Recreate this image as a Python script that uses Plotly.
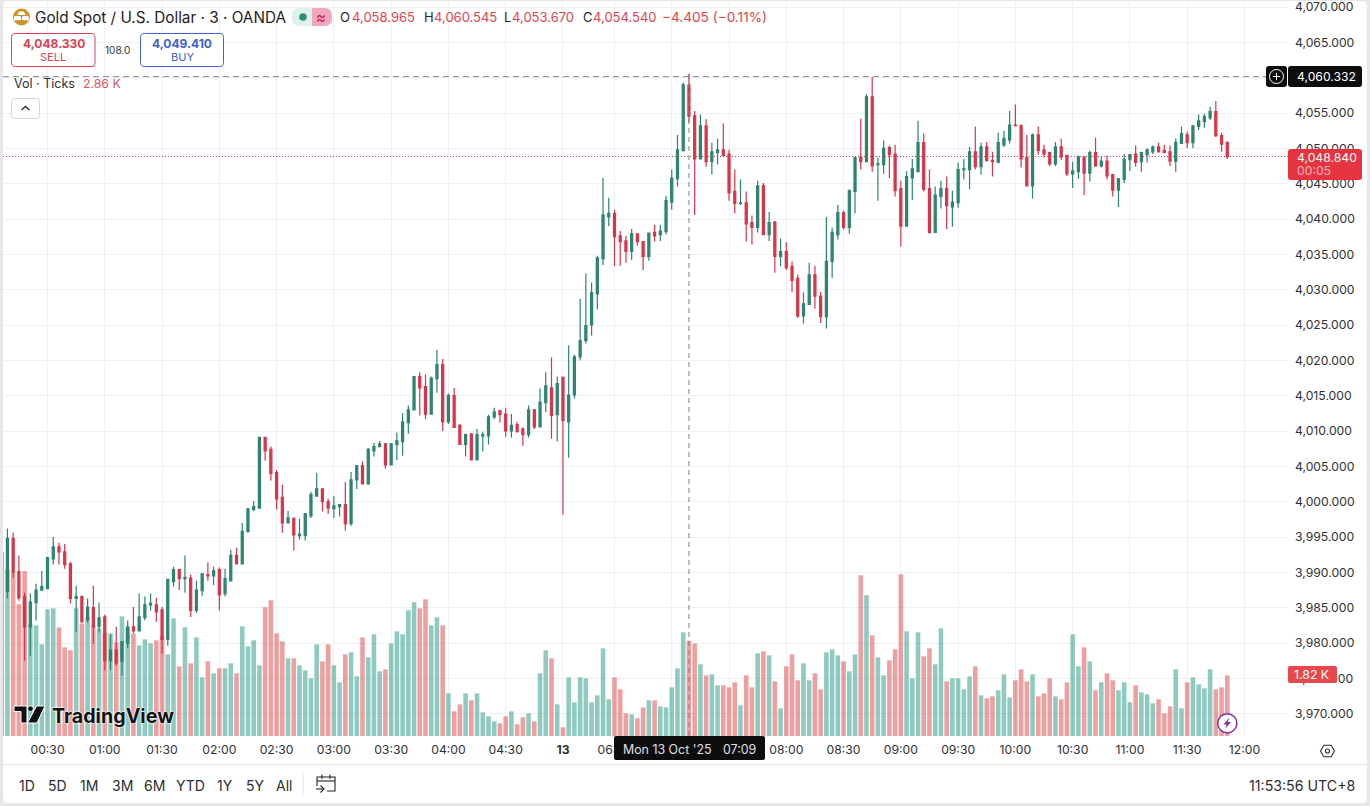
import plotly.graph_objects as go

W, H = 1370, 806

# ---- data -------------------------------------------------------------
minutes = list(range(6, 298, 3)) + list(range(363, 747, 3))
axis_times = [f"{m // 60:02d}:{m % 60:02d}" for m in minutes]
volume_times = axis_times[:215]
candle_times = axis_times[1:215]

open_ = [3987.3,3994.8,3990.1,3986.6,3982.3,3985.7,3987.5,3987.7,3991.9,3993.6,
3992.9,3991.2,3986.3,3986.6,3983.3,3985.0,3982.4,3983.7,3977.5,3979.0,
3977.4,3980.0,3982.3,3981.7,3983.6,3985.4,3985.4,3984.7,3980.5,3988.7,
3990.4,3989.1,3989.2,3984.6,3987.4,3989.7,3989.5,3990.4,3987.0,3988.8,
3992.4,3991.2,3995.8,3998.9,3999.1,4009.1,4007.4,4004.1,4000.6,3997.0,
3997.6,3995.2,3995.2,3998.0,4000.8,4001.8,4000.0,3999.0,3999.3,3999.6,
3996.9,4003.1,4005.1,4002.5,4007.2,4007.8,4008.2,4005.2,4008.1,4008.5,
4011.2,4013.0,4017.7,4016.3,4012.4,4017.4,4019.4,4011.3,4015.0,4010.8,
4008.1,4009.6,4005.9,4009.3,4009.3,4012.0,4012.9,4012.4,4010.0,4010.9,
4010.3,4009.5,4013.0,4010.6,4014.0,4016.1,4012.3,4017.6,4011.3,4015.1,
4020.5,4022.8,4025.0,4029.4,4034.4,4040.3,4040.8,4037.6,4036.9,4035.4,
4037.9,4036.8,4034.7,4038.1,4037.8,4038.2,4042.4,4045.7,4049.7,4058.965,
4054.6,4048.5,4053.2,4048.1,4049.4,4049.8,4049.2,4043.9,4042.2,4042.3,
4039.5,4038.8,4044.7,4037.8,4039.6,4034.7,4035.4,4033.3,4031.6,4026.3,
4027.9,4032.1,4029.1,4026.2,4034.0,4037.8,4040.9,4038.8,4043.9,4048.7,
4048.1,4057.3,4047.7,4047.7,4050.1,4049.2,4044.3,4039.0,4045.8,4046.7,
4050.8,4044.3,4038.1,4043.2,4044.3,4041.7,4042.3,4047.0,4047.0,4049.5,
4047.4,4050.2,4048.3,4048.0,4050.5,4051.2,4053.3,4053.2,4048.7,4044.7,
4051.9,4049.8,4049.4,4047.8,4050.2,4049.0,4046.4,4046.7,4048.7,4046.5,
4049.4,4047.5,4048.2,4046.3,4044.1,4045.6,4048.4,4049.2,4048.1,4049.1,
4049.5,4050.2,4049.7,4049.5,4048.2,4050.7,4051.9,4050.8,4053.1,4053.8,
4054.3,4055.2,4051.8,4050.8]

high = [3996.2,3995.6,3992.4,3987.1,3987.0,3988.4,3990.2,3992.2,3995.0,3994.2,
3994.0,3991.5,3988.1,3986.7,3986.3,3988.1,3985.7,3984.0,3981.2,3982.3,
3980.3,3983.2,3985.1,3987.0,3986.6,3987.0,3986.4,3985.1,3989.1,3990.8,
3990.5,3992.4,3989.7,3988.8,3989.9,3991.4,3990.8,3990.7,3990.5,3993.2,
3993.5,3997.0,3999.1,4000.1,4009.2,4009.2,4007.8,4004.5,4002.4,3998.7,
3997.8,3997.6,3998.4,4001.4,4004.1,4001.9,4000.4,4000.8,3999.6,4002.8,
4004.2,4005.1,4005.7,4007.6,4008.3,4008.6,4008.3,4008.3,4009.8,4012.5,
4013.6,4017.8,4018.3,4018.0,4017.7,4021.5,4020.2,4015.3,4016.1,4011.0,
4009.6,4009.7,4010.3,4009.9,4012.3,4013.3,4013.0,4013.3,4012.4,4011.3,
4010.5,4013.6,4013.1,4016.0,4018.3,4020.4,4017.7,4017.7,4022.1,4020.8,
4028.7,4032.3,4031.0,4034.8,4045.8,4043.0,4041.3,4038.3,4037.6,4038.6,
4038.0,4036.9,4038.1,4039.2,4039.2,4043.3,4047.0,4051.9,4059.3,4060.545,
4055.3,4054.8,4054.1,4050.8,4051.4,4053.5,4049.8,4047.0,4045.6,4043.9,
4040.5,4045.4,4045.1,4041.0,4039.7,4037.2,4036.7,4034.0,4032.1,4029.6,
4033.8,4033.4,4029.7,4040.3,4038.8,4042.0,4041.2,4044.2,4048.8,4054.2,
4057.7,4060.1,4048.7,4051.1,4050.4,4050.5,4045.4,4046.8,4048.5,4053.9,
4052.1,4047.0,4044.6,4045.4,4046.0,4044.0,4048.0,4048.5,4050.2,4053.1,
4050.8,4050.9,4049.5,4052.2,4052.5,4055.3,4056.2,4053.4,4051.9,4052.1,
4053.1,4050.5,4049.5,4050.9,4051.4,4049.1,4048.1,4049.0,4048.9,4049.7,
4051.5,4048.8,4049.0,4046.4,4045.8,4049.2,4049.2,4050.4,4049.5,4050.0,
4050.4,4050.8,4050.5,4050.4,4051.4,4053.1,4052.4,4053.3,4054.8,4054.9,
4055.9,4056.7,4052.2,4051.0]

low = [3986.3,3989.2,3986.0,3977.5,3978.2,3983.2,3987.5,3987.7,3991.1,3991.1,
3990.5,3985.6,3981.6,3983.0,3982.9,3979.9,3981.5,3976.1,3976.2,3976.8,
3975.4,3979.3,3981.4,3981.7,3983.2,3984.6,3983.0,3978.5,3979.6,3988.0,
3987.5,3987.1,3983.7,3984.3,3986.7,3988.8,3988.2,3984.6,3986.6,3988.8,
3991.2,3991.2,3995.6,3998.7,3999.1,4005.8,4003.0,3998.9,3995.6,3996.9,
3993.1,3994.6,3994.5,3997.7,4000.8,3998.6,3998.3,3997.7,3997.9,3995.9,
3996.6,4001.8,4002.5,4002.4,4006.4,4007.8,4004.7,4005.2,4005.9,4006.5,
4009.6,4012.9,4012.2,4011.7,4012.3,4015.4,4010.0,4011.0,4010.5,4008.1,
4006.4,4005.9,4005.9,4007.1,4008.1,4011.7,4011.2,4009.2,4009.1,4009.8,
4007.9,4009.1,4010.3,4010.5,4012.7,4008.9,4008.5,3998.2,4006.2,4014.6,
4020.0,4022.4,4023.5,4027.2,4033.5,4039.0,4033.3,4033.4,4033.8,4034.2,
4036.2,4032.8,4034.1,4036.8,4036.9,4037.8,4041.3,4044.6,4049.5,4053.67,
4040.6,4048.5,4047.4,4046.3,4047.7,4049.0,4042.6,4040.8,4042.0,4036.8,
4036.4,4038.1,4037.8,4036.9,4032.4,4033.3,4032.8,4029.7,4026.0,4025.2,
4027.9,4027.3,4025.3,4024.5,4031.7,4037.1,4038.5,4037.9,4040.8,4047.0,
4048.0,4046.7,4042.6,4046.4,4045.8,4043.2,4036.1,4039.0,4042.7,4046.7,
4043.9,4037.9,4038.1,4041.5,4038.6,4038.9,4041.6,4045.6,4044.2,4047.0,
4046.3,4048.1,4046.0,4048.0,4050.2,4050.7,4053.1,4047.3,4044.6,4042.9,
4049.1,4048.7,4047.5,4047.5,4048.4,4046.1,4044.4,4045.7,4043.4,4045.3,
4047.4,4047.3,4045.6,4043.2,4041.7,4045.1,4046.8,4047.4,4046.7,4048.0,
4049.2,4049.4,4049.4,4047.5,4046.7,4050.7,4050.0,4050.0,4052.6,4052.9,
4054.0,4051.6,4049.5,4048.5]

close = [3994.8,3990.0,3986.4,3982.3,3985.8,3987.5,3988.0,3992.1,3993.6,3992.9,
3991.1,3986.3,3986.6,3983.0,3985.1,3982.3,3983.6,3977.5,3979.0,3977.2,
3980.2,3982.3,3981.7,3983.7,3985.4,3985.6,3984.4,3980.5,3989.0,3990.4,
3989.1,3989.3,3984.6,3987.5,3989.8,3989.5,3990.2,3986.8,3989.1,3992.4,
3991.2,3995.8,3999.0,3999.3,4009.1,4007.2,4004.0,4000.4,3997.0,3997.7,
3995.3,3995.4,3998.3,4001.0,4001.8,4000.0,3999.1,3999.4,3999.6,3996.9,
4003.1,4005.1,4002.5,4007.4,4007.8,4008.2,4005.2,4008.2,4008.6,4011.3,
4013.0,4017.7,4016.1,4012.4,4017.5,4019.4,4011.3,4015.0,4010.5,4008.1,
4009.5,4005.9,4009.5,4009.5,4012.0,4012.7,4012.3,4010.0,4010.8,4009.9,
4009.5,4013.0,4010.6,4014.1,4016.4,4012.2,4016.7,4011.5,4015.1,4020.5,
4022.8,4024.9,4029.6,4034.5,4040.6,4040.8,4037.5,4036.8,4035.4,4037.9,
4036.8,4034.7,4038.0,4037.6,4038.3,4042.6,4045.8,4049.8,4059.0,4054.54,
4048.5,4053.2,4048.1,4049.5,4049.8,4049.0,4043.7,4042.2,4042.3,4039.3,
4038.8,4044.7,4037.8,4039.5,4034.7,4035.4,4033.1,4031.3,4026.3,4028.0,
4032.1,4029.1,4026.2,4034.0,4038.1,4040.9,4038.8,4044.0,4048.7,4048.1,
4057.3,4047.5,4047.8,4050.0,4049.1,4044.0,4039.0,4046.0,4047.1,4050.8,
4044.2,4038.1,4043.4,4044.3,4041.9,4042.4,4047.0,4047.1,4049.5,4047.4,
4050.2,4048.3,4048.1,4050.8,4051.4,4053.3,4053.2,4048.5,4044.7,4051.9,
4049.7,4049.2,4047.8,4050.2,4048.8,4046.4,4046.8,4048.8,4046.5,4049.4,
4047.5,4048.2,4046.1,4044.1,4045.7,4048.4,4049.1,4048.0,4049.4,4049.8,
4050.2,4049.5,4049.4,4048.2,4050.8,4052.1,4050.8,4053.2,4053.9,4054.5,
4055.2,4051.8,4050.6,4048.84]

volume = [5520,5000,4880,3950,4940,3370,3320,2750,3800,3830,3260,2660,2570,3830,3380,3560,3300,3230,3100,3080,
2810,3590,3250,3080,2720,2900,2780,2870,2990,2450,3530,2090,3260,2180,2960,1760,2240,1880,2030,2030,
2180,1880,3290,2690,2870,2120,3860,4070,3080,2840,2330,2330,2120,1970,1730,2750,2240,2750,2120,1610,
2450,2510,1790,2960,2360,3050,1940,2000,2780,3140,3050,3770,4010,3830,4100,3320,3560,3320,1280,740,
950,1280,1070,1280,710,590,440,380,590,740,350,560,680,440,1880,2570,2330,950,260,1760,
1010,1760,1730,1010,1220,2630,1100,1760,1400,680,650,530,860,1070,1070,890,860,1460,2030,3110,
2860,2780,2150,1820,1850,1520,1520,1460,1610,920,1820,1460,2480,2540,2420,1640,830,2090,2450,1670,
2180,1670,1880,1400,2510,2600,2420,2240,1940,2450,4820,4220,3020,2360,1820,2270,2600,4850,3140,1730,
3110,2390,2630,2150,3230,1640,1730,1730,1400,1790,2090,1220,1130,1190,1370,1850,1160,1670,2000,1640,
1850,1190,1280,1730,1190,1100,1610,3050,2090,2660,2240,1370,1610,1880,1670,1370,1610,1010,1520,1310,
1250,980,1100,680,890,2000,830,1610,1760,1550,1430,2000,1400,1460,1820]

tick_times = ["00:30","01:00","01:30","02:00","02:30","03:00","03:30","04:00","04:30","06:03",
              "06:30","07:00","07:30","08:00","08:30","09:00","09:30","10:00","10:30","11:00","11:30","12:00"]
tick_labels = ["00:30","01:00","01:30","02:00","02:30","03:00","03:30","04:00","04:30","<b>13</b>",
               "06:30","07:00","07:30","08:00","08:30","09:00","09:30","10:00","10:30","11:00","11:30","12:00"]
period_labels = ["1D","5D","1M","3M","6M","YTD","1Y","5Y","All"]
cross_time = "07:09"
cross_price = 4060.15
last_price = 4048.84

assert len(open_) == len(high) == len(low) == len(close) == len(candle_times), (len(open_), len(high), len(low), len(close), len(candle_times))
assert len(volume) == len(volume_times), len(volume)

# ---- styles and page geometry ------------------------------------------
FONT = "Inter"
INK = "#2e3036"
UP, DOWN = "#2b8570", "#d9344a"
VOL_UP, VOL_DOWN = "rgba(29,149,127,0.5)", "rgba(221,63,63,0.5)"
GRID = "#eff0f2"
RED = "#e0434f"
PLOT_L, PLOT_R, PLOT_B = 3, 1288, 736


def fx(v):
    return v / W


def fy(v):
    return 1 - v / H


def ypath(points, close_path=True):
    body = " ".join(("M" if i == 0 else "L") + f"{fx(a):.5f},{fy(b):.5f}" for i, (a, b) in enumerate(points))
    return body + (" Z" if close_path else "")


def rrect(x0, y0, x1, y1, r):
    a, b, c, d = fx(x0), fy(y0), fx(x1), fy(y1)
    rx, ry = r / W, r / H
    return (f"M{a + rx:.5f},{b:.5f} L{c - rx:.5f},{b:.5f} Q{c:.5f},{b:.5f} {c:.5f},{b - ry:.5f} "
            f"L{c:.5f},{d + ry:.5f} Q{c:.5f},{d:.5f} {c - rx:.5f},{d:.5f} L{a + rx:.5f},{d:.5f} "
            f"Q{a:.5f},{d:.5f} {a:.5f},{d + ry:.5f} L{a:.5f},{b - ry:.5f} Q{a:.5f},{b:.5f} {a + rx:.5f},{b:.5f} Z")


shapes, notes = [], []


def box(x0, y0, x1, y1, r=0, fill=None, line=None, lw=1, layer="above"):
    shapes.append(dict(type="path", xref="paper", yref="paper", path=rrect(x0, y0, x1, y1, r), layer=layer,
                       fillcolor=fill or "rgba(0,0,0,0)", line=dict(color=line or "rgba(0,0,0,0)", width=lw if line else 0)))


def poly(points, fill=None, line=None, lw=1, closed=True):
    shapes.append(dict(type="path", xref="paper", yref="paper", path=ypath(points, closed), layer="above",
                       fillcolor=fill or "rgba(0,0,0,0)", line=dict(color=line or "rgba(0,0,0,0)", width=lw if line else 0)))


def disc(cx, cy, r, fill=None, line=None, lw=1):
    shapes.append(dict(type="circle", xref="paper", yref="paper", layer="above",
                       x0=fx(cx - r), x1=fx(cx + r), y0=fy(cy + r), y1=fy(cy - r),
                       fillcolor=fill or "rgba(0,0,0,0)", line=dict(color=line or "rgba(0,0,0,0)", width=lw if line else 0)))


def hline(x0, x1, y, color, lw=1):
    poly([(x0, y), (x1, y)], line=color, lw=lw, closed=False)


def text(x, y, s, size=13, color=INK, anchor="left", shadow=None):
    font = dict(family=FONT, size=size, color=color)
    if shadow:
        font["shadow"] = shadow
    notes.append(dict(xref="paper", yref="paper", x=fx(x), y=fy(y), text=s, showarrow=False,
                      xanchor=anchor, yanchor="middle", align=anchor, font=font, borderpad=0))


# page frame
box(3, 1, 1367, 803, r=5, fill="#ffffff", layer="below")

# crosshair and last price line, placed through the axes
shapes.append(dict(type="line", xref="paper", yref="y2", x0=fx(PLOT_L), x1=fx(1266), y0=cross_price, y1=cross_price,
                   line=dict(color="#8a8a8a", width=1, dash="6px,4px"), layer="above"))
shapes.append(dict(type="line", xref="x", yref="paper", x0=cross_time, x1=cross_time, y0=fy(736), y1=fy(72),
                   line=dict(color="#808080", width=1, dash="5px,4px"), layer="above"))
shapes.append(dict(type="line", xref="paper", yref="y2", x0=fx(PLOT_L), x1=fx(PLOT_R), y0=last_price, y1=last_price,
                   line=dict(color="#d9344a", width=1, dash="1px,2px"), layer="above"))

# header
disc(21.5, 17, 8.5, fill="#c9952c")
poly([(19, 11.5), (24, 11.5), (25.5, 15), (17.5, 15)], fill="#ffffff")
poly([(14.3, 16), (20.5, 16), (21.5, 20), (14, 20.5)], fill="#ffffff")
poly([(22.5, 16), (28.5, 16), (29, 20.5), (22, 20)], fill="#ffffff")
text(33.5, 17.5, "Gold Spot / U.S. Dollar · 3 · OANDA", size=15.3, color="#1f2126")
box(292, 8, 332, 26, r=8, fill="#dff1ec")
box(312, 8, 332, 26, r=8, fill="#f1a6bd")
box(312, 8, 320, 26, fill="#f1a6bd")
disc(303, 17, 3.8, fill="#2b8f7a")
text(321, 17, "≈", size=15, color="#c9184a", anchor="center")
for label, value, lx, gap in zip("OHLC", ["4,058.965", "4,060.545", "4,053.670", "4,054.540"],
                                 [339, 422.5, 502.5, 581.5], [11.5, 10.5, 8.5, 10]):
    text(lx, 17.5, label, size=13, color="#26282e")
    text(lx + gap, 17.5, value, size=13, color=RED)
text(661, 17.5, "−4.405 (−0.11%)", size=13.6, color=RED)

# order buttons
box(11.5, 33.5, 95, 66.5, r=4, line="#d8434f", fill="rgba(255,255,255,0.9)")
text(53.5, 43, "<b>4,048.330</b>", size=12, color="#d8434f", anchor="center")
text(53, 57, "SELL", size=11, color="#d8434f", anchor="center")
text(117.5, 50, "108.0", size=10, color="#33363c", anchor="center")
box(140.5, 33.5, 223.5, 66.5, r=4, line="#3f62cf", fill="rgba(255,255,255,0.9)")
text(182, 43, "<b>4,049.410</b>", size=12, color="#3f62cf", anchor="center")
text(182, 57, "BUY", size=11, color="#3f62cf", anchor="center")

# volume legend
text(12.5, 83.5, "Vol · Ticks", size=12.5, color="#2b2d33")
text(81.5, 83.5, "2.86 K", size=12.3, color="#dd5560")
box(11.5, 98.5, 39.5, 118.5, r=3, line="#d6d6d6", fill="#ffffff")
poly([(21.5, 110), (25.5, 106.5), (29.5, 110)], line="#2b2d33", lw=1.4, closed=False)

# price tags
box(1266, 66, 1287, 87, r=3, fill="#0d0d0f")
disc(1276.5, 76.5, 7, line="#ffffff", lw=1)
hline(1272.8, 1280.2, 76.5, "#ffffff", 1)
poly([(1276.5, 72.8), (1276.5, 80.2)], line="#ffffff", lw=1, closed=False)
box(1288, 66, 1362, 87, r=3, fill="#0d0d0f")
text(1296, 76.5, "4,060.332", size=12.2, color="#ffffff")
box(1288, 149, 1362, 180, r=3, fill="#e5343f")
text(1296, 157, "4,048.840", size=12.2, color="#ffffff")
text(1296, 170.5, "00:05", size=12.2, color="#f9b6ba")
box(1288, 666, 1337, 683, r=2, fill="#e8484c")
text(1293, 674.5, "1.82 K", size=12.3, color="#ffffff")

# watermark
HALO = "0 0 1.5px #fff, 0 0 1.5px #fff, 0 0 2px #fff"
poly([(14, 706), (27, 706), (27, 723), (21, 723), (21, 711.5), (14, 711.5)], fill="#111111", line="#ffffff", lw=1)
disc(30.5, 708.7, 2.8, fill="#111111", line="#ffffff", lw=0.8)
poly([(36.5, 706), (45, 706), (37, 723), (27.5, 723)], fill="#111111", line="#ffffff", lw=1)
text(51, 715.5, "<b>TradingView</b>", size=19.7, color="#111111", shadow=HALO)

# purple flash
disc(1227.3, 723.3, 9.6, fill="#ffffff", line="#7f2f9f", lw=1.5)
poly([(1229.5, 717.5), (1223.5, 724.5), (1226.8, 724.5), (1225, 729), (1231, 722), (1227.8, 722)], fill="#7f2f9f")

# settings icon
poly([(1320.5, 751), (1323.8, 745.2), (1331.2, 745.2), (1334.5, 751), (1331.2, 756.8), (1323.8, 756.8)], line="#2b2d33", lw=1.1)
disc(1327.5, 751, 2, line="#2b2d33", lw=1.1)

# bottom bar
hline(3, 1367, 764.5, "#e4e4e6")
for label, cx in zip(period_labels, [27, 57, 89, 122, 154, 190, 225, 255, 284]):
    text(cx, 785, label, size=14, color="#2b2d33", anchor="center")
poly([(303, 773), (303, 795)], line="#dedede", lw=1, closed=False)
poly([(317, 786), (317, 777), (335, 777), (335, 791), (327, 791)], line="#1f2126", lw=1.1, closed=False)
hline(317, 335, 781, "#1f2126", 1.1)
poly([(322, 774.5), (322, 779)], line="#1f2126", lw=1.1, closed=False)
poly([(330, 774.5), (330, 779)], line="#1f2126", lw=1.1, closed=False)
hline(316, 324, 789, "#1f2126", 1.1)
poly([(320.5, 785.5), (324, 789), (320.5, 792.5)], line="#1f2126", lw=1.1, closed=False)
text(1356, 785, "11:53:56 UTC+8", size=14.2, color="#2b2d33", anchor="right")

# crosshair date label on top of the tick labels
box(614, 736, 765, 760, r=2, fill="#0d0d0f")
text(622, 749.5, "Mon 13 Oct '25", size=12.4, color="#e0e0e0")
text(722, 749.5, "07:09", size=12.4, color="#e0e0e0")

# ---- figure ------------------------------------------------------------
vol_colors = [VOL_DOWN] + [VOL_UP if c >= o else VOL_DOWN for o, c in zip(open_, close)]

fig = go.Figure()
fig.add_trace(go.Bar(x=volume_times, y=volume, marker=dict(color=vol_colors, line=dict(width=0)),
                     yaxis="y", hoverinfo="skip", showlegend=False))
fig.add_trace(go.Candlestick(x=candle_times, open=open_, high=high, low=low, close=close, yaxis="y2",
                             increasing=dict(line=dict(color=UP, width=1.2), fillcolor=UP),
                             decreasing=dict(line=dict(color=DOWN, width=1.2), fillcolor=DOWN),
                             whiskerwidth=0, showlegend=False, hoverinfo="skip"))

SPACING, FIRST = 5.727, 1.7
fig.update_layout(
    width=W, height=H, margin=dict(l=0, r=0, t=0, b=0, autoexpand=False),
    paper_bgcolor="#e7e7e9", plot_bgcolor="rgba(0,0,0,0)", showlegend=False,
    bargap=0.2, boxgap=0.4, boxgroupgap=0.4,
    font=dict(family=FONT, size=13, color=INK),
    xaxis=dict(type="category", categoryorder="array", categoryarray=axis_times,
               domain=[fx(PLOT_L), fx(PLOT_R)],
               range=[(PLOT_L - FIRST) / SPACING, (PLOT_R - FIRST) / SPACING],
               rangeslider=dict(visible=False), tickmode="array", tickvals=tick_times, ticktext=tick_labels,
               showgrid=True, gridcolor=GRID, gridwidth=1, showline=False, ticks="", ticklen=0,
               tickangle=0, tickfont=dict(family=FONT, size=12.2, color=INK), automargin=False,
               ticklabelstandoff=5, anchor="y", position=0),
    yaxis=dict(domain=[fy(PLOT_B), 1], range=[0, 736 * 30], showgrid=False, zeroline=False,
               showticklabels=False, ticks="", fixedrange=True, automargin=False),
    yaxis2=dict(domain=[fy(PLOT_B), 1], overlaying="y", side="right", anchor="x",
                range=[4070 - (PLOT_B - 7) / 7.067, 4070 + 7 / 7.067], dtick=5, tick0=3970, tickformat=",.3f",
                showgrid=True, gridcolor=GRID, gridwidth=1, zeroline=False, showline=False, ticks="",
                tickfont=dict(family=FONT, size=12.2, color=INK), automargin=False,
                ticklabeloverflow="allow", ticklabelstandoff=6),
    shapes=shapes, annotations=notes,
)

fig.write_html("out.html", config={"displayModeBar": False},
               post_script="document.body.style.margin='0';document.documentElement.style.overflow='hidden';")
